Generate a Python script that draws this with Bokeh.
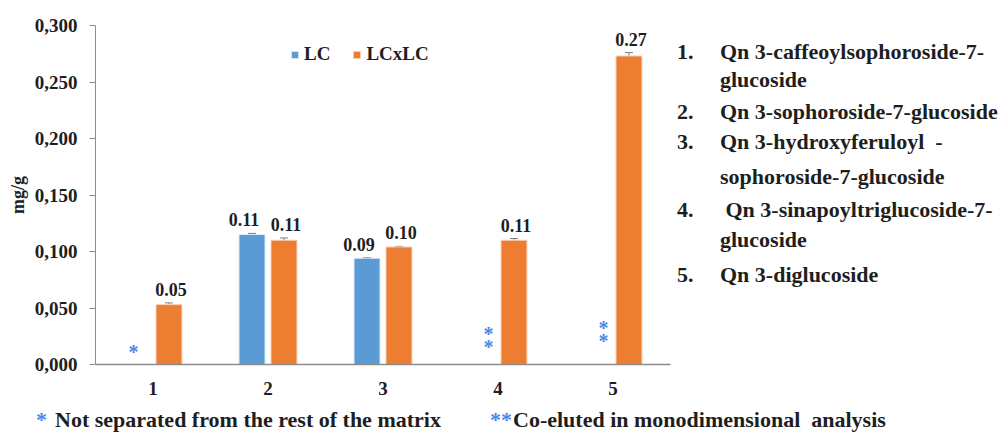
from bokeh.plotting import figure
from bokeh.models import (ColumnDataSource, Range1d, FixedTicker, CustomJSTickFormatter,
                          Whisker, Legend, LegendItem, Div)
from bokeh.layouts import row, column
from bokeh.core.properties import value
from bokeh.embed import file_html
from bokeh.resources import INLINE

# ---------------- data ----------------
categories = [1, 2, 3, 4, 5]
cat_labels = ["1", "2", "3", "4", "5"]
lc_values = [0.0, 0.115, 0.094, 0.0, 0.0]
lc_err = [0.0, 0.001, 0.0005, 0.0, 0.0]
lc_text = ["", "0.11", "0.09", "", ""]
lcxlc_values = [0.053, 0.110, 0.104, 0.110, 0.273]
lcxlc_err = [0.0015, 0.002, 0.0005, 0.0015, 0.003]
lcxlc_text = ["0.05", "0.11", "0.10", "0.11", "0.27"]
notes = ["*", "", "", "*\n*", "*\n*"]
y_ticks = [0.0, 0.05, 0.10, 0.15, 0.20, 0.25, 0.30]
compounds = [
    ("1.", ["Qn 3-caffeoylsophoroside-7-", "glucoside"]),
    ("2.", ["Qn 3-sophoroside-7-glucoside"]),
    ("3.", ["Qn 3-hydroxyferuloyl&nbsp; -", "sophoroside-7-glucoside"]),
    ("4.", ["&nbsp;Qn 3-sinapoyltriglucoside-7-", "glucoside"]),
    ("5.", ["Qn 3-diglucoside"]),
]
footnotes = [("*", "Not separated from the rest of the matrix"),
             ("**", "Co-eluted in monodimensional&nbsp; analysis")]

# ---------------- style ----------------
FONT = "Liberation Serif"
TXT = "#1e1e1e"
BLUE = "#5B9BD5"
ORANGE = "#ED7D31"
STAR = "#4a86e8"
AX = "#8c8c8c"
OFF = 0.139
BW = 0.226

PW, PH = 673, 404
p = figure(width=PW, height=PH, output_backend="svg", toolbar_location=None,
           x_range=Range1d(0.5, 5.5), y_range=Range1d(0, 0.3),
           min_border_left=95, min_border_right=3, min_border_top=25, min_border_bottom=40)
p.outline_line_color = None
p.xgrid.visible = False
p.ygrid.visible = False
p.margin = 0

def build(vals, errs, texts, sign):
    idx = [i for i, v in enumerate(vals) if v > 0]
    return ColumnDataSource(dict(
        x=[categories[i] + sign * OFF for i in idx],
        top=[vals[i] for i in idx],
        lo=[vals[i] - errs[i] for i in idx],
        hi=[vals[i] + errs[i] for i in idx],
        txt=[texts[i] for i in idx],
    ))

src_lc = build(lc_values, lc_err, lc_text, -1)
src_lx = build(lcxlc_values, lcxlc_err, lcxlc_text, +1)

r_lc = p.vbar(x="x", top="top", width=BW, bottom=0, source=src_lc,
              fill_color=BLUE, line_color="#dbe8f5", line_width=1)
r_lx = p.vbar(x="x", top="top", width=BW, bottom=0, source=src_lx,
              fill_color=ORANGE, line_color="#f7d3bb", line_width=1)

for s, dx in ((src_lc, -8), (src_lx, 2)):
    w = Whisker(base="x", upper="hi", lower="lo", source=s, line_color="#7f7f7f",
                line_width=1)
    w.upper_head.size = 8
    w.lower_head.size = 8
    w.upper_head.line_color = "#7f7f7f"
    w.lower_head.line_color = "#7f7f7f"
    p.add_layout(w)
    p.text(x="x", y="hi", text="txt", source=s, text_align="center",
           text_baseline="bottom", y_offset=-7, x_offset=dx, text_font=value(FONT),
           text_font_style="bold", text_font_size="18px", text_color=TXT)

# asterisk notes where LC is not available
note_y = [0.0124, 0, 0, 0.023, 0.0283]
note_dx = {"*": -0.17, "*\n*": -0.083}
nx, ny, nt = [], [], []
for c, n, yy in zip(categories, notes, note_y):
    if n:
        nx.append(c + note_dx[n]); ny.append(yy); nt.append(n)
p.text(x=nx, y=ny, text=nt, text_align="center", text_baseline="middle", y_offset=2,
       text_font=value(FONT), text_font_style="bold", text_font_size="20px",
       text_color=STAR, text_line_height=0.62)

# axes
p.xaxis.ticker = FixedTicker(ticks=categories)
p.xaxis.major_label_overrides = {c: l for c, l in zip(categories, cat_labels)}
p.xaxis.major_tick_line_color = None
p.xaxis.minor_tick_line_color = None
p.xaxis.axis_line_color = AX
p.xaxis.axis_line_width = 1.5
p.xaxis.major_label_standoff = 11
p.yaxis.ticker = FixedTicker(ticks=y_ticks)
p.yaxis.formatter = CustomJSTickFormatter(code="return tick.toFixed(3).replace('.', ',');")
p.yaxis.minor_tick_line_color = None
p.yaxis.major_tick_in = 0
p.yaxis.major_tick_out = 6
p.yaxis.major_tick_line_color = AX
p.yaxis.axis_line_color = AX
p.yaxis.major_label_standoff = 12
p.yaxis.axis_label = "mg/g"
p.yaxis.axis_label_standoff = 4
for ax in (p.xaxis[0], p.yaxis[0]):
    ax.major_label_text_font = FONT
    ax.major_label_text_font_style = "bold"
    ax.major_label_text_font_size = "19px"
    ax.major_label_text_color = TXT
    ax.axis_label_text_font = FONT
    ax.axis_label_text_font_style = "bold"
    ax.axis_label_text_font_size = "18px"
    ax.axis_label_text_color = TXT

# legend
leg = Legend(items=[LegendItem(label="LC", renderers=[r_lc]),
                    LegendItem(label="LCxLC", renderers=[r_lx])],
             location=(195, 299), orientation="horizontal", padding=0, margin=0,
             spacing=22, glyph_width=9, glyph_height=9, label_standoff=5,
             label_text_font=FONT, label_text_font_style="bold",
             label_text_font_size="19px", label_text_color=TXT,
             border_line_alpha=0, background_fill_alpha=0)
p.add_layout(leg)

# right-hand compound list (div-local pixel positions)
line_y = [52, 80, 112, 142, 177, 210, 240, 275]
spans = []
k = 0
base = (f"position:absolute;white-space:nowrap;font-family:'{FONT}';font-weight:bold;"
        f"font-size:22px;line-height:24px;color:{TXT};")
for num, lines in compounds:
    spans.append(f"<div style=\"{base}left:4px;top:{line_y[k]-12}px;\">{num}</div>")
    for ln in lines:
        spans.append(f"<div style=\"{base}left:47px;top:{line_y[k]-12}px;\">{ln}</div>")
        k += 1
DW = 330
list_div = Div(text=f"<div style=\"position:relative;width:{DW}px;height:{PH}px;\">"
               + "".join(spans) + "</div>", width=DW, height=PH, margin=0)

fbase = (f"position:absolute;white-space:nowrap;font-family:'{FONT}';font-weight:bold;"
         f"font-size:22px;line-height:24px;")
foot = (f"<div style=\"position:relative;width:{PW + DW}px;height:26px;\">"
        f"<div style=\"{fbase}left:36px;top:4px;color:{STAR};\">{footnotes[0][0]}</div>"
        f"<div style=\"{fbase}left:55px;top:4px;color:{TXT};\">{footnotes[0][1]}</div>"
        f"<div style=\"{fbase}left:490px;top:4px;color:{STAR};\">{footnotes[1][0]}</div>"
        f"<div style=\"{fbase}left:513px;top:4px;color:{TXT};\">{footnotes[1][1]}</div>"
        f"</div>")
foot_div = Div(text=foot, width=PW + DW, height=26, margin=0)

layout = column(row(p, list_div, spacing=0), foot_div, spacing=0)
open("out.html", "w").write(file_html(layout, INLINE))
